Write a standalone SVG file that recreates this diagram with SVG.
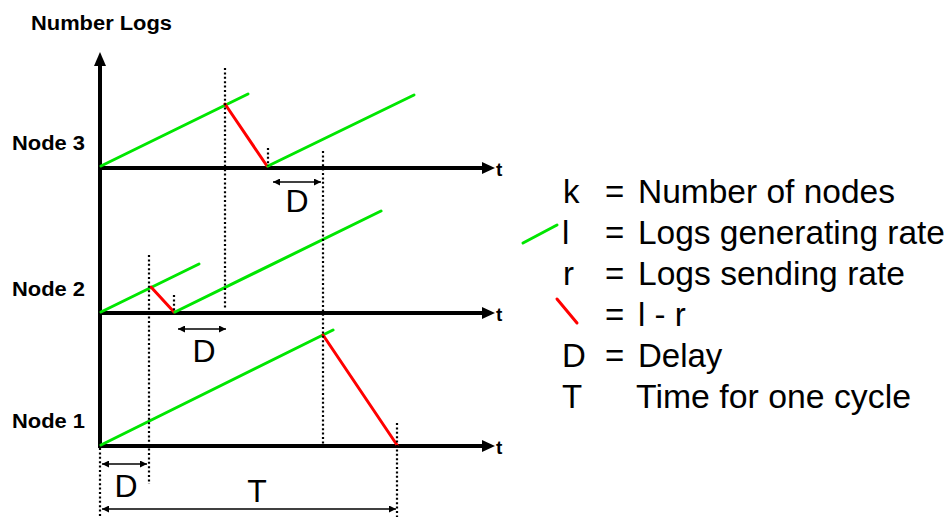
<svg xmlns="http://www.w3.org/2000/svg" width="950" height="517" viewBox="0 0 950 517">
<defs>
<marker id="ah" viewBox="0 0 10 10" refX="10" refY="5" markerWidth="9" markerHeight="7" markerUnits="userSpaceOnUse" orient="auto-start-reverse"><path d="M0,0 L10,5 L0,10 z" fill="#000"/></marker>
</defs>
<style>
.axis{stroke:#000;stroke-width:4;fill:none}
.head{fill:#000}
.g{stroke:#00e600;stroke-width:3;stroke-linecap:round}
.r{stroke:#f00;stroke-width:3;stroke-linecap:round}
.dot{stroke:#000;stroke-width:2.2;stroke-dasharray:2 2.4}
.dim{stroke:#000;stroke-width:1.5;marker-start:url(#ah);marker-end:url(#ah)}
.lbl{font-family:"Liberation Sans",Arial,sans-serif;font-weight:bold;font-size:20px;fill:#000}
.tl{font-family:"Liberation Sans",Arial,sans-serif;font-weight:bold;font-size:19px;fill:#000}
.big{font-family:"Liberation Sans",Arial,sans-serif;font-size:32px;fill:#000}
.leg{font-family:"Liberation Sans",Arial,sans-serif;font-size:33px;fill:#000}
</style>

<g id="axes">
<line class="axis" x1="100" y1="62" x2="100" y2="448"/>
<polygon class="head" points="94,66 100,52 106,66"/>
<text class="lbl" x="31" y="30" textLength="141" lengthAdjust="spacingAndGlyphs">Number Logs</text>
</g>

<g id="node3">
<line class="axis" x1="98" y1="168" x2="484" y2="168"/>
<polygon class="head" points="482,162 495,168 482,174"/>
<text class="tl" x="496" y="176">t</text>
<text class="lbl" x="12" y="150" textLength="73" lengthAdjust="spacingAndGlyphs">Node 3</text>
<line class="g" x1="101" y1="166" x2="248" y2="94"/>
<line class="r" x1="225" y1="104" x2="267" y2="166"/>
<line class="g" x1="268" y1="166" x2="414" y2="95"/>
</g>

<g id="node2">
<line class="axis" x1="98" y1="313" x2="484" y2="313"/>
<polygon class="head" points="482,307 495,313 482,319"/>
<text class="tl" x="496" y="321">t</text>
<text class="lbl" x="12" y="296" textLength="73" lengthAdjust="spacingAndGlyphs">Node 2</text>
<line class="g" x1="101" y1="312" x2="199" y2="264"/>
<line class="r" x1="151" y1="287" x2="174" y2="312"/>
<line class="g" x1="175" y1="312" x2="381" y2="211"/>
</g>

<g id="node1">
<line class="axis" x1="98" y1="446" x2="484" y2="446"/>
<polygon class="head" points="482,440 495,446 482,452"/>
<text class="tl" x="496" y="454">t</text>
<text class="lbl" x="12" y="428" textLength="73" lengthAdjust="spacingAndGlyphs">Node 1</text>
<line class="g" x1="101" y1="445" x2="333" y2="330"/>
<line class="r" x1="323" y1="335" x2="397" y2="445"/>
</g>

<g id="connectors">
<line class="dot" x1="225" y1="68" x2="225" y2="310"/>
<line class="dot" x1="268" y1="148" x2="268" y2="166"/>
<line class="dot" x1="323" y1="151" x2="323" y2="444"/>
<line class="dot" x1="149" y1="255" x2="149" y2="484"/>
<line class="dot" x1="174" y1="295" x2="174" y2="312"/>
<line class="dot" x1="100" y1="448" x2="100" y2="517"/>
<line class="dot" x1="397" y1="423" x2="397" y2="517"/>
<line class="dim" x1="273" y1="182" x2="321" y2="182"/>
<line class="dim" x1="178" y1="329" x2="226" y2="329"/>
<line class="dim" x1="102" y1="464" x2="147" y2="464"/>
<line class="dim" x1="102" y1="509" x2="396" y2="509"/>
</g>

<g id="dimlabels">
<text class="big" x="297" y="212" text-anchor="middle">D</text>
<text class="big" x="204" y="362" text-anchor="middle">D</text>
<text class="big" x="126" y="497" text-anchor="middle">D</text>
<text class="big" x="257" y="502" text-anchor="middle">T</text>
</g>

<g id="legend">
<text class="leg" x="563" y="203">k</text>
<text class="leg" x="605" y="203">=</text>
<text class="leg" x="638" y="203" textLength="257" lengthAdjust="spacingAndGlyphs">Number of nodes</text>
<line class="g" x1="523" y1="243" x2="557" y2="225"/>
<text class="leg" x="562" y="244">l</text>
<text class="leg" x="605" y="244">=</text>
<text class="leg" x="638" y="244" textLength="307" lengthAdjust="spacingAndGlyphs">Logs generating rate</text>
<text class="leg" x="563" y="285">r</text>
<text class="leg" x="605" y="285">=</text>
<text class="leg" x="638" y="285" textLength="267" lengthAdjust="spacingAndGlyphs">Logs sending rate</text>
<line class="r" x1="557" y1="299" x2="577" y2="323"/>
<text class="leg" x="605" y="326">=</text>
<text class="leg" x="638" y="326">l - r</text>
<text class="leg" x="562" y="367">D</text>
<text class="leg" x="605" y="367">=</text>
<text class="leg" x="638" y="367">Delay</text>
<text class="leg" x="562" y="408">T</text>
<text class="leg" x="636" y="408" textLength="275" lengthAdjust="spacingAndGlyphs">Time for one cycle</text>
</g>
</svg>
